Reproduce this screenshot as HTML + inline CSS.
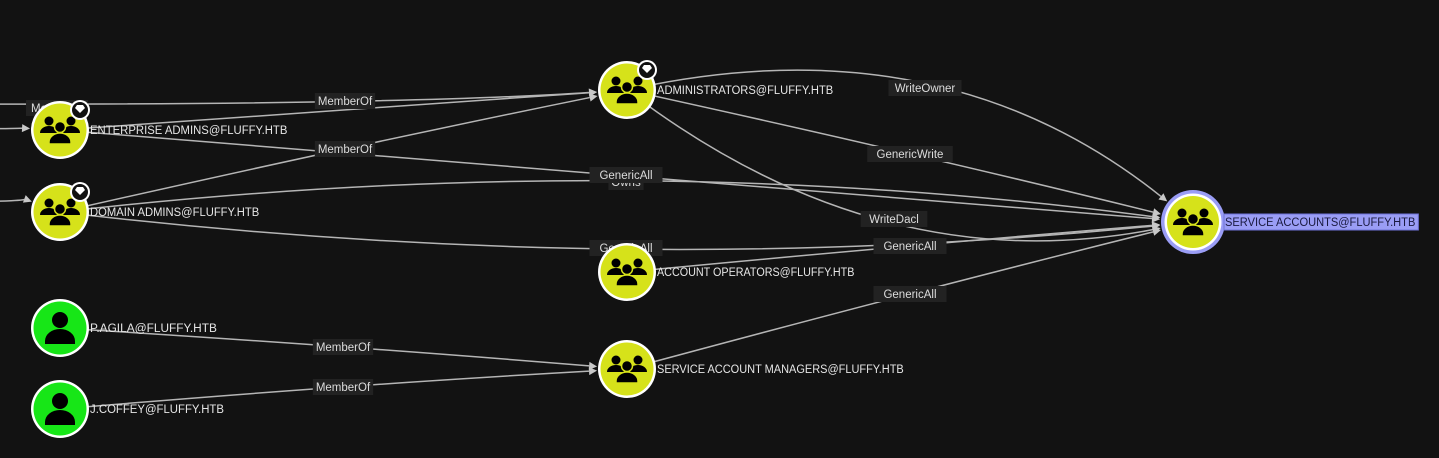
<!DOCTYPE html>
<html><head><meta charset="utf-8"><style>
html,body{margin:0;padding:0;background:#121212;overflow:hidden}
svg{display:block;font-family:"Liberation Sans",sans-serif}
</style></head><body>
<svg id="g" width="1439" height="458" viewBox="0 0 1439 458">
<rect width="1439" height="458" fill="#121212"/>
<g id="edges"></g>
<g id="labels"></g>
<g id="nodes"></g>
</svg>
<script>
const nodeIds=["ext1","ext2","ext3","ea","da","pagila","jcoffey","admins","accop","sam","sa"];
const nodeNames=["","","","ENTERPRISE ADMINS@FLUFFY.HTB","DOMAIN ADMINS@FLUFFY.HTB","P.AGILA@FLUFFY.HTB","J.COFFEY@FLUFFY.HTB","ADMINISTRATORS@FLUFFY.HTB","ACCOUNT OPERATORS@FLUFFY.HTB","SERVICE ACCOUNT MANAGERS@FLUFFY.HTB","SERVICE ACCOUNTS@FLUFFY.HTB"];
const nodeKinds=["none","none","none","group","group","user","user","group","group","group","group"];
const nodeX=[-40,-40,-40,60,60,60,60,627,627,627,1193];
const nodeY=[104,129,202,130,212,328,409,90,272,369,222];
const nodeTier0=[0,0,0,1,1,0,0,1,0,0,0];
const nodeSelected=[0,0,0,0,0,0,0,0,0,0,1];

const edgeFrom=["ext1","ext2","ext3","ea","da","da","ea","da","admins","admins","admins","accop","sam","pagila","jcoffey"];
const edgeTo=["admins","ea","da","admins","admins","sa","sa","sa","sa","sa","sa","sa","sa","sam","sam"];
const edgeLabel=["MemberOf","","","","MemberOf","Owns","GenericAll","GenericAll","WriteOwner","GenericWrite","WriteDacl","GenericAll","GenericAll","MemberOf","MemberOf"];
const edgeMidX=[345,20,20,345,345,626,626,626,925,910,894,910,910,343,343];
const edgeMidY=[101,129,204,110,149,182,175,248,88,154,219,246,294,347,387];

const NS="http://www.w3.org/2000/svg";
function mk(t,a,p){const e=document.createElementNS(NS,t);for(const k in a)e.setAttribute(k,a[k]);p.appendChild(e);return e;}
function idx(id){return nodeIds.indexOf(id);}
const E=document.getElementById('edges'),L=document.getElementById('labels'),N=document.getElementById('nodes');

const pl=mk('rect',{x:26,y:100,width:62,height:16,fill:'#222'},L);


const pt=mk('text',{x:31,y:112,fill:'#ddd','font-size':11.5},L);pt.textContent='MemberOf';



for(let i=0;i<edgeFrom.length;i++){
  const a=idx(edgeFrom[i]),b=idx(edgeTo[i]);
  const sx=nodeX[a],sy=nodeY[a],tx=nodeX[b],ty=nodeY[b];
  const mx=edgeMidX[i],my=edgeMidY[i];
  const cx=2*mx-(sx+tx)/2,cy=2*my-(sy+ty)/2;
  const r=nodeSelected[b]?33:30;
  let dx=tx-cx,dy=ty-cy;const d=Math.hypot(dx,dy);dx/=d;dy/=d;
  const ex=tx-dx*r,ey=ty-dy*r;
  const ex2=ex-dx*8,ey2=ey-dy*8;
  const p=mk('path',{d:`M${sx},${sy} Q${cx},${cy} ${ex2},${ey2}`,stroke:'#b5b5b5','stroke-width':1.5,fill:'none'},E);
  
  
  const px=-dy,py=dx;
  const ar=mk('polygon',{points:`${ex},${ey} ${ex2+px*4},${ey2+py*4} ${ex2-px*4},${ey2-py*4}`,fill:'#c8c8c8'},E);
  
  
  if(edgeLabel[i]){
    const w=edgeLabel[i].length*6.3+10;
    const rr=mk('rect',{x:mx-w/2,y:my-8,width:w,height:16,fill:'#222'},L);
    
    
    const t=mk('text',{x:mx,y:my+4,fill:'#dcdcdc','font-size':11.5,'text-anchor':'middle'},L);
    t.textContent=edgeLabel[i];
    
    
  }
}

function groupIcon(g,x,y){
  mk('circle',{cx:x-11,cy:y-9,r:4.5,fill:'#000'},g);
  mk('circle',{cx:x+11,cy:y-9,r:4.5,fill:'#000'},g);
  mk('path',{d:`M${x-20},${y+3} a9,7 0 0 1 18,0 z M${x+2},${y+3} a9,7 0 0 1 18,0 z`,fill:'#000'},g);
  mk('circle',{cx:x,cy:y-3,r:5.5,fill:'#000',stroke:'#d6e21a','stroke-width':1.5},g);
  mk('path',{d:`M${x-11},${y+14} v-2 a11,9 0 0 1 22,0 v2 z`,fill:'#000',stroke:'#d6e21a','stroke-width':1.5},g);
}
function userIcon(g,x,y){
  mk('circle',{cx:x,cy:y-8,r:8,fill:'#000'},g);
  mk('path',{d:`M${x-15},${y+16} v-3 a15,12 0 0 1 30,0 v3 z`,fill:'#000'},g);
}

for(let i=0;i<nodeIds.length;i++){
  if(nodeKinds[i]==='none')continue;
  const x=nodeX[i],y=nodeY[i];
  const g=mk('g',{},N);
  
  
  if(nodeSelected[i]) mk('circle',{cx:x,cy:y,r:32,fill:'#9a9df5'},g);
  mk('circle',{cx:x,cy:y,r:nodeSelected[i]?28.5:29,fill:'#fff'},g);
  mk('circle',{cx:x,cy:y,r:nodeSelected[i]?26:26.5,fill:nodeKinds[i]==='user'?'#17e617':'#d6e21a'},g);
  if(nodeKinds[i]==='user')userIcon(g,x,y);else groupIcon(g,x,y);
  if(nodeTier0[i]){
    const b=mk('g',{},g);
    
    
    mk('circle',{cx:x+20,cy:y-20,r:10,fill:'#fff'},b);
    mk('circle',{cx:x+20,cy:y-20,r:8,fill:'#111'},b);
    mk('path',{d:`M${x+15},${y-22} l2,-3 h6 l2,3 l-5,5 z`,fill:'#fff'},b);
  }
  const lx=x+(nodeSelected[i]?32:30),ly=y+4;
  const t=mk('text',{x:lx,y:ly,fill:nodeSelected[i]?'#1a1a40':'#e6e6e6','font-size':11.5,'textLength':nodeNames[i].length*7.05,'lengthAdjust':'spacingAndGlyphs'},g);
  t.textContent=nodeNames[i];
  if(nodeSelected[i]){
    const w=nodeNames[i].length*7.05+4;
    const hb=document.createElementNS(NS,'rect');
    hb.setAttribute('x',lx-1);hb.setAttribute('y',y-8);hb.setAttribute('width',w);hb.setAttribute('height',16);
    hb.setAttribute('fill','#9a9df5');hb.setAttribute('stroke','#6f73d8');
    g.insertBefore(hb,t);
    
    
  }
  
  
}
</script>
</body></html>
